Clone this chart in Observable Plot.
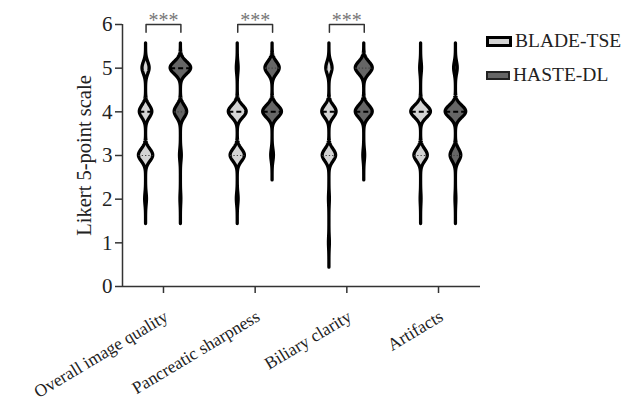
<!DOCTYPE html>
<html>
<head>
<meta charset="utf-8">
<script src="https://cdn.jsdelivr.net/npm/d3@7"></script>
<script src="https://cdn.jsdelivr.net/npm/@observablehq/plot@0.6"></script>
<style>
  html, body { margin: 0; padding: 0; background: #fff; }
  #wrap { position: relative; width: 625px; height: 403px; font-family: "Liberation Serif", serif; }
  #legend { position: absolute; left: 486px; top: 30px; color: #222; font-size: 19.5px; }
  .item { position: absolute; left: 0; display: flex; align-items: center; white-space: nowrap; }
  .sw { width: 20px; height: 5px; margin-right: 3px; box-sizing: content-box; }
</style>
</head>
<body>
<div id="wrap"></div>
<script>
// ---- data ----
const categories = ["Overall image quality", "Pancreatic sharpness", "Biliary clarity", "Artifacts"];
const groups = ["BLADE-TSE", "HASTE-DL"];
const levels = [1, 2, 3, 4, 5];
// counts of ratings at levels 1..5, per category
const bladeCounts = [[0, 2, 16, 14, 8], [0, 2, 16, 20, 2], [1, 1, 15, 16, 7], [0, 1, 15, 22, 2]];
const hasteCounts = [[0, 1, 2, 14, 23], [0, 0, 3, 21, 16], [0, 0, 2, 19, 19], [0, 1, 12, 23, 4]];
const significance = ["***", "***", "***", ""];
const yTicks = [0, 1, 2, 3, 4, 5, 6];

// ---- layout constants ----
const groupOffset = {"BLADE-TSE": -0.19, "HASTE-DL": 0.19};
const groupFill = ["#d4d4d4", "#666666"];
const bw = 0.14, tail = 0.57, maxHalf = 0.112;

const countsByGroup = {"BLADE-TSE": bladeCounts, "HASTE-DL": hasteCounts};
const violins = [];
categories.forEach((cat, ci) => {
  groups.forEach(g => {
    const counts = countsByGroup[g][ci];
    const values = [];
    counts.forEach((c, k) => { for (let j = 0; j < c; j++) values.push(levels[k]); });
    violins.push({ci, cat, g, counts, values, center: ci + groupOffset[g]});
  });
});
function dens(v, y) {
  const n = v.values.length;
  let s = 0;
  v.counts.forEach((c, k) => { const z = (y - levels[k]) / bw; s += c * Math.exp(-0.5 * z * z); });
  return s / (n * bw * Math.sqrt(2 * Math.PI));
}
let maxD = 0;
violins.forEach(v => { levels.forEach(l => { maxD = Math.max(maxD, dens(v, l)); }); });
const half = (v, y) => dens(v, y) / maxD * maxHalf;

const areaRows = [];
const quartRows = [];
const medRows = [];
violins.forEach(v => {
  const lo = d3.min(v.values) - tail, hi = d3.max(v.values) + tail;
  const N = Math.round((hi - lo) / 0.01);
  for (let i = 0; i <= N; i++) {
    const y = lo + (hi - lo) * i / N;
    const w = half(v, y);
    areaRows.push({key: v.cat + v.g, group: v.g, y, x1: v.center - w, x2: v.center + w});
  }
  const sorted = v.values.slice().sort(d3.ascending);
  const med = d3.quantileSorted(sorted, 0.5);
  [0.25, 0.75].forEach(p => {
    const q = d3.quantileSorted(sorted, p);
    if (q !== med) { const w = half(v, q); quartRows.push({y: q, x1: v.center - w, x2: v.center + w}); }
  });
  const wm = half(v, med);
  medRows.push({y: med, x1: v.center - wm, x2: v.center + wm});
});

const bracketRows = [];
const starRows = [];
significance.forEach((s, ci) => {
  if (!s) return;
  const a = ci + groupOffset["BLADE-TSE"], b = ci + groupOffset["HASTE-DL"];
  [[a, 5.82], [a, 6], [b, 6], [b, 5.82]].forEach(([x, y]) => bracketRows.push({ci, x, y}));
  starRows.push({x: ci, y: 6, text: s});
});

const xDomain = [-0.447, 3.458];
const xTicks = categories.map((c, i) => i);
const chart = Plot.plot({
  width: 625, height: 403,
  marginLeft: 122, marginRight: 145, marginTop: 24, marginBottom: 117,
  x: {domain: xDomain, axis: null},
  y: {domain: [0, 6], axis: null},
  color: {domain: groups, range: groupFill},
  style: {fontFamily: "Liberation Serif", color: "#222", background: "white", overflow: "visible"},
  marks: [
    Plot.areaX(areaRows, {y: "y", x1: "x1", x2: "x2", z: "key", fill: "group", stroke: "black", strokeWidth: 3.3, strokeLinejoin: "round", curve: "linear"}),
    Plot.ruleY(quartRows, {y: "y", x1: "x1", x2: "x2", stroke: "#444", strokeWidth: 1.1, strokeDasharray: "1.3,2"}),
    Plot.ruleY(medRows, {y: "y", x1: "x1", x2: "x2", stroke: "black", strokeWidth: 2, strokeDasharray: "5,3"}),
    Plot.line(bracketRows, {x: "x", y: "y", z: "ci", stroke: "#333", strokeWidth: 1.5}),
    Plot.text(starRows, {x: "x", y: "y", text: "text", fontSize: 20, fill: "#777", dy: -4, textAnchor: "middle"}),
    Plot.ruleX([xDomain[0]], {stroke: "#333", strokeWidth: 1.5}),
    Plot.ruleY([0], {stroke: "#333", strokeWidth: 1.5}),
    Plot.axisY({ticks: yTicks, tickFormat: d3.format("d"), tickSize: 7, tickPadding: 3, fontSize: 21, stroke: "#333", strokeWidth: 1.5, label: null}),
    Plot.axisX({ticks: xTicks, tickFormat: () => "", tickSize: 7, stroke: "#333", strokeWidth: 1.5, label: null}),
    Plot.axisX({ticks: xTicks, tickFormat: i => categories[i], tickSize: 0, tickRotate: -31, fontSize: 17.5, label: null, dx: 3, dy: 16}),
    Plot.text(["Likert 5-point scale"], {frameAnchor: "left", dx: -38, rotate: -90, fontSize: 20.5, textAnchor: "middle", fill: "#222"})
  ]
});
const wrap = document.getElementById("wrap");
wrap.appendChild(chart);

const legend = document.createElement("div");
legend.id = "legend";
const borders = ["3px solid #000", "2.5px solid #222"];
groups.forEach((g, i) => {
  const it = document.createElement("div");
  it.className = "item";
  it.style.top = (i * 34) + "px";
  const sw = document.createElement("span");
  sw.className = "sw";
  sw.style.background = groupFill[i];
  sw.style.border = borders[i];
  const t = document.createElement("span");
  t.textContent = g;
  it.appendChild(sw); it.appendChild(t);
  legend.appendChild(it);
});
wrap.appendChild(legend);
</script>
</body>
</html>
